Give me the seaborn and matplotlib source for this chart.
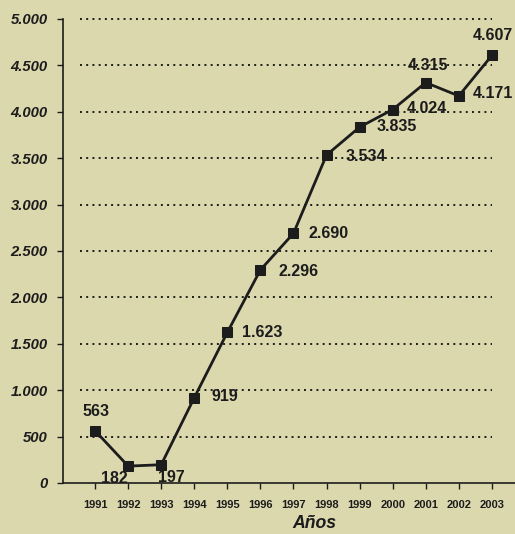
import matplotlib

matplotlib.use("Agg")

import matplotlib.pyplot as plt  # noqa: E402
import pandas as pd  # noqa: E402
import seaborn as sns  # noqa: E402

years = [1991, 1992, 1993, 1994, 1995, 1996, 1997, 1998, 1999, 2000, 2001, 2002, 2003]
values = [563, 182, 197, 919, 1623, 2296, 2690, 3534, 3835, 4024, 4315, 4171, 4607]
y_ticks = [0, 500, 1000, 1500, 2000, 2500, 3000, 3500, 4000, 4500, 5000]

# label offsets in pixels (dx, dy) from each marker, plus horizontal alignment
label_offsets = [(1, 19), (-14, -12), (10, -13), (17, 1), (15, 0), (18, -2), (15, 0),
                 (19, -1), (17, 1), (14, 1), (2, 17), (14, 2), (1, 20)]
label_ha = ["center", "center", "center", "left", "left", "left", "left",
            "left", "left", "left", "center", "left", "center"]

BG = "#dcd8ae"
INK = "#1c1c1c"


def fmt(v):
    return f"{v:,}".replace(",", ".")


sns.set_style("white")
plt.rcParams["font.family"] = ["Liberation Sans", "DejaVu Sans"]

df = pd.DataFrame({"year": years, "value": values})

fig = plt.figure(figsize=(5.15, 5.34), dpi=100, facecolor=BG)
ax = fig.add_axes([63 / 515, 1 - 483 / 534, 1 - 63 / 515, (483 - 19) / 534])
ax.set_facecolor(BG)

# dotted horizontal guides
for t in y_ticks[1:]:
    ax.plot([1990.55, 2003.0], [t, t], linestyle=(0, (1, 2.2)), color=INK,
            linewidth=1.4, zorder=1, clip_on=False)

sns.lineplot(data=df, x="year", y="value", ax=ax, color=INK, linewidth=2.0,
             marker="s", markersize=6.5, markeredgecolor=INK, zorder=3)

for x, v, (dx, dy), ha in zip(years, values, label_offsets, label_ha):
    ax.annotate(fmt(v), (x, v), xytext=(dx, dy), textcoords="offset pixels",
                ha=ha, va="center", fontsize=11.5, fontweight="bold", color=INK)

ax.set_xlim(1990.03, 2003.7)
ax.set_ylim(0, 5000)
ax.set_xticks(years)
ax.set_xticklabels([str(y) for y in years], fontsize=8, fontweight="bold")
ax.set_yticks(y_ticks)
ax.set_yticklabels([fmt(t) for t in y_ticks], fontsize=10.7, fontweight="bold",
                   style="italic")
ax.tick_params(axis="both", direction="out", length=4, width=1, color=INK,
               labelcolor=INK, left=True, bottom=True)
ax.tick_params(axis="x", pad=8)
ax.tick_params(axis="y", pad=7)

for side in ["top", "right"]:
    ax.spines[side].set_visible(False)
for side in ["left", "bottom"]:
    ax.spines[side].set_color(INK)
    ax.spines[side].set_linewidth(1.2)

ax.set_xlabel("Años", fontsize=12.7, fontweight="bold", style="italic", color=INK)
ax.xaxis.label.set_va("center")
ax.xaxis.set_label_coords(0.557, -0.088)
ax.set_ylabel("")

fig.savefig("out.png", dpi=100, facecolor=BG)
